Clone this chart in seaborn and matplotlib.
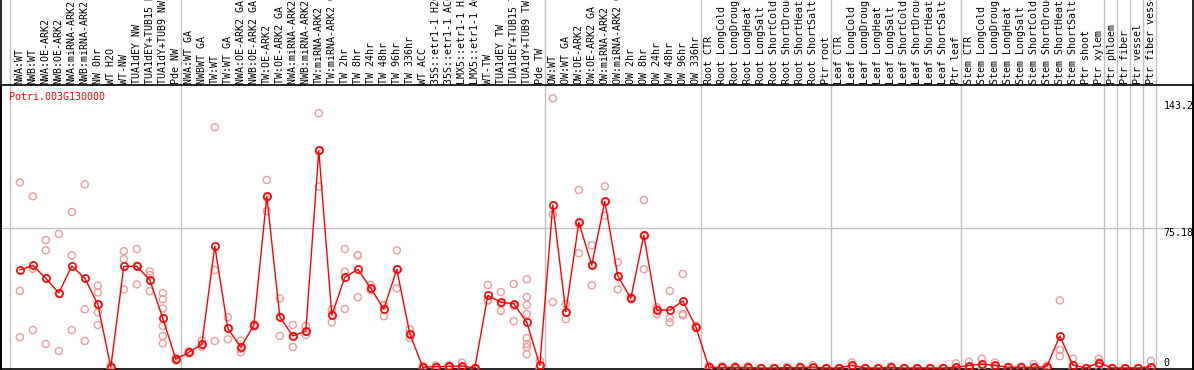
import numpy as np
import pandas as pd
import seaborn as sns
import matplotlib.pyplot as plt
from matplotlib.transforms import blended_transform_factory

# data
gene = 'Potri.003G130000'

labels = [
    'NWA:WT', 'NWB:WT', 'NWA:OE-ARK2', 'NWB:OE-ARK2', 'NWA:miRNA-ARK2', 'NWB:miRNA-ARK2',
    'NW 0hr', 'WT H2O', 'WT-NW', 'TUA1dEY NW', 'TUA1dEY+TUB15 NW', 'TUA1dY+TUB9 NW', 'Pde NW',
    'NWA:WT GA', 'NWBWT GA', 'TW:WT', 'TW:WT GA', 'NWA:OE-ARK2 GA', 'NWB:OE-ARK2 GA',
    'TW:OE-ARK2', 'TW:OE-ARK2 GA', 'NWA:miRNA-ARK2 GA', 'NWB:miRNA-ARK2 GA', 'TW:miRNA-ARK2',
    'TW:miRNA-ARK2 GA', 'TW 2hr', 'TW 8hr', 'TW 24hr', 'TW 48hr', 'TW 96hr', 'TW 336hr', 'WT ACC',
    '35S::etr1-1 H2O', '35S::etr1-1 ACC', 'LMX5::etr1-1 H2O', 'LMX5::etr1-1 ACC', 'WT-TW',
    'TUA1dEY TW', 'TUA1dEY+TUB15 TW', 'TUA1dY+TUB9 TW', 'Pde TW',
    'OW:WT', 'OW:WT GA', 'OW:OE-ARK2', 'OW:OE-ARK2 GA', 'OW:miRNA-ARK2', 'OW:miRNA-ARK2 GA',
    'OW 2hr', 'OW 8hr', 'OW 24hr', 'OW 48hr', 'OW 96hr', 'OW 336hr',
    'Root CTR', 'Root LongCold', 'Root LongDrought', 'Root LongHeat', 'Root LongSalt',
    'Root ShortCold', 'Root ShortDrought', 'Root ShortHeat', 'Root ShortSalt', 'Ptr root',
    'Leaf CTR', 'Leaf LongCold', 'Leaf LongDrought', 'Leaf LongHeat', 'Leaf LongSalt',
    'Leaf ShortCold', 'Leaf ShortDrought', 'Leaf ShortHeat', 'Leaf ShortSalt', 'Ptr leaf',
    'Stem CTR', 'Stem LongCold', 'Stem LongDrought', 'Stem LongHeat', 'Stem LongSalt',
    'Stem ShortCold', 'Stem ShortDrought', 'Stem ShortHeat', 'Stem ShortSalt',
    'Ptr shoot', 'Ptr xylem', 'Ptr phloem', 'Ptr fiber', 'Ptr vessel', 'Ptr fiber vessel',
]

means = [
    52.6, 55.1, 48.2, 40.3, 54.8, 48.2, 34.2, 0.4, 54.6, 54.6, 47.3, 26.7, 4.7,
    8.4, 12.7, 65.5, 21.3, 11.1, 22.9, 92.2, 27.4, 17.2, 19.9, 116.9, 28.3, 48.7, 53.0,
    42.8, 31.7, 53.0, 18.4, 0.4, 0.7, 0.9, 1.1, 0.0, 39.0, 35.3, 34.5, 24.5, 1.4,
    87.5, 30.1, 78.2, 55.3, 89.5, 49.4, 37.4, 71.3, 31.1, 31.1, 36.0, 22.2,
    0.5, 0.3, 0.3, 0.3, 0.0, 0.0, 0.2, 0.3, 0.5, 0.0,
    0.0, 1.4, 0.0, 0.0, 0.4, 0.0, 0.0, 0.0, 0.0, 0.4,
    1.3, 2.1, 1.4, 0.4, 0.4, 0.4, 0.7, 17.2, 1.6, 0.0, 2.9, 0.0, 0.0, 0.0, 0.7,
]

replicates = [
    [99.7, 41.4, 16.6], [92.2, 53.3, 20.4], [68.7, 63.2, 12.9], [72.0, 39.8, 9.1],
    [83.8, 60.5, 20.4], [98.6, 31.5, 14.5], [44.2, 40.6, 34.0, 29.9, 23.1], [1.4, 0.0, 0.0],
    [62.7, 58.5, 42.2], [63.9, 55.0, 44.9], [51.9, 49.9, 41.2],
    [40.3, 36.9, 31.9, 22.6, 17.2, 13.2], [5.5, 4.7, 4.0],
    [9.0, 8.4, 7.8], [14.7, 12.5, 11.3], [129.3, 52.6, 14.5], [27.2, 21.3, 15.4],
    [14.7, 10.2, 8.4], [23.5, 22.9, 22.3], [101.0, 91.4, 84.2], [37.4, 27.6, 17.2],
    [23.1, 17.2, 11.3], [22.6, 19.4, 17.7], [136.8, 116.5, 97.4], [31.5, 28.9, 24.5],
    [63.9, 51.7, 31.7], [60.5, 60.5, 38.0], [44.6, 41.9, 41.9], [33.8, 33.5, 27.8],
    [63.2, 53.0, 42.8], [20.8, 18.3, 16.1], [1.2, 0.0, 0.0], [1.4, 0.6, 0.1],
    [1.5, 0.9, 0.3], [2.9, 0.3, 0.1], [0.0, 0.0, 0.0], [44.6, 36.4, 36.2],
    [40.8, 34.5, 30.6], [45.1, 33.2, 25.2],
    [47.6, 38.1, 33.8, 29.0, 16.0, 12.9, 11.2, 7.4], [3.9, 0.2, 0.1],
    [144.8, 82.5, 35.4], [34.4, 29.7, 26.2], [95.6, 77.4, 61.6], [65.9, 55.6, 44.4],
    [97.6, 89.1, 81.8], [56.8, 49.2, 42.2], [38.0, 37.4, 36.8], [90.2, 70.7, 53.0],
    [32.6, 31.7, 29.0], [41.4, 26.9, 24.5], [50.5, 29.0, 28.3], [22.8, 22.2, 21.6],
    [1.2, 0.3, 0.0], [1.0, 0.0, 0.0], [1.0, 0.0, 0.0], [1.0, 0.0, 0.0], [0.0, 0.0, 0.0],
    [0.0, 0.0, 0.0], [0.5, 0.0, 0.0], [0.8, 0.0, 0.0], [1.6, 0.0, 0.0], [0.0, 0.0, 0.0],
    [0.0, 0.0, 0.0], [3.0, 0.8, 0.4], [0.0, 0.0, 0.0], [0.0, 0.0, 0.0], [1.0, 0.2, 0.0],
    [0.0, 0.0, 0.0], [0.0, 0.0, 0.0], [0.0, 0.0, 0.0], [0.0, 0.0, 0.0], [2.5, 0.0, 0.0],
    [3.4, 0.5, 0.0], [5.0, 1.0, 0.3], [2.9, 1.0, 0.3], [0.7, 0.4, 0.1], [0.8, 0.3, 0.1],
    [2.1, 0.0, 0.0], [1.3, 0.5, 0.2], [36.3, 9.7, 6.4], [5.0, 0.0, 0.0], [0.0, 0.0],
    [5.0, 2.9, 0.8], [0.0, 0.0], [0.0, 0.0], [0.0, 0.0], [3.8, 0.0, 0.0],
]

# last sample index of each group (a grey separator follows it)
group_ends = [12, 40, 52, 62, 72, 83, 84, 85, 86, 87]
tick_values = [143.2, 75.18, 0]
tick_texts = ['143.2', '75.18', '0']

# tidy frames for seaborn
df_mean = pd.DataFrame({'pos': np.arange(len(labels)), 'label': labels, 'value': means})
df_rep = pd.DataFrame(
    [(i, v) for i, reps in enumerate(replicates) for v in reps],
    columns=['pos', 'value'],
)

sns.set_style('white')
plt.rcParams['font.family'] = ['DejaVu Sans Mono']
fs = 7.2

W, H = 1194, 370
fig = plt.figure(figsize=(W / 100, H / 100), dpi=100)
ax = fig.add_axes([0.5 / W, 1 / H, 1192.5 / W, 284 / H])

red = '#ff0000'
pink = '#ef9c9c'

# replicate samples
sns.scatterplot(data=df_rep, x='pos', y='value', marker='o', s=26,
                facecolors='none', edgecolor=pink, linewidth=1.0, ax=ax,
                zorder=3, legend=False)

# mean profile
sns.lineplot(data=df_mean, x='pos', y='value', color=red, linewidth=1.0,
             marker='o', markersize=5.2, markerfacecolor='none',
             markeredgecolor=red, markeredgewidth=1.2, ax=ax, zorder=4,
             estimator=None, sort=False)

# axis ranges: 0 -> 19.3 px, 13 px per sample; y 0 at 368 px, 75.18 at 228 px
ax.set_xlim(-19.3 / 13, (1192.5 - 19.3) / 13)
ypx = 75.18 / 140
ax.set_ylim(-1 * ypx, 283 * ypx)
ax.set_xticks([])
ax.set_yticks([])
ax.set_xlabel('')
ax.set_ylabel('')
for sp in ax.spines.values():
    sp.set_visible(True)
    sp.set_color('black')
    sp.set_linewidth(1.2)

grey = '#c0c0c0'
ax.axhline(75.18, color=grey, lw=1.0, zorder=1)
ax.axvline(-0.72, ymin=-0.01, ymax=1.31, color=grey, lw=1.0, clip_on=False, zorder=1)
for e in group_ends:
    ax.axvline(e + 0.38, ymin=-0.01, ymax=1.31, color=grey, lw=1.0, clip_on=False, zorder=1)
# left and right border run up through the label strip too
ax.axvline(ax.get_xlim()[0], ymin=0, ymax=1.31, color='black', lw=1.2, clip_on=False)
ax.axvline(ax.get_xlim()[1], ymin=0, ymax=1.31, color='black', lw=1.2, clip_on=False)

# sample names above the plot
lab_tr = blended_transform_factory(ax.transData, fig.transFigure)
for i, name in enumerate(labels):
    ax.text(i, (H - 84) / H, name, transform=lab_tr, rotation=90, ha='center',
            va='bottom', fontsize=fs, color='black', clip_on=False)

# value labels on the right, inside the plot
tr = blended_transform_factory(ax.transAxes, ax.transData)
for v, t in zip(tick_values, tick_texts):
    ax.text(1163 / 1192.5, v, t, transform=tr, ha='left',
            va='bottom' if v == 0 else 'top', fontsize=fs, color='black')

ax.text(9 / 1192.5, (369 - 97) / 284, gene, transform=ax.transAxes, ha='left',
        va='center', fontsize=fs, color=red)

fig.savefig('out.png', dpi=100)
